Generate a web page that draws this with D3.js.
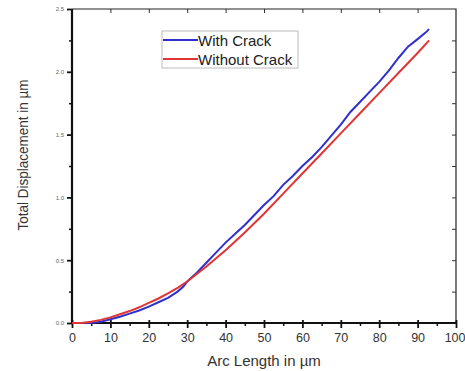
<!DOCTYPE html>
<html lang="en">
<head>
    <meta charset="UTF-8">
    <title>Total Displacement vs Arc Length</title>
    <script src="https://d3js.org/d3.v7.min.js"></script>
    <style>
        body { margin: 0; background: #fff; }
        text { font-family: "Liberation Sans", Arial, sans-serif; }
        .line { fill: none; stroke-width: 2px; }
    </style>
</head>
<body>
    <svg width="465" height="371"></svg>
    <script>
        // values
        const xWith = [0, 5, 7.5, 10, 12.5, 15, 17.5, 20, 22.5, 25, 27.5, 29, 30, 32.5, 35, 37.5, 40, 42.5, 45, 47.5, 50,
            52.5, 55, 57.5, 60, 62.5, 65, 67.5, 70, 72.5, 75, 77.5, 80, 82.5, 85, 87.5, 90, 92, 93];
        const yWith = [0, 0, 0.01, 0.03, 0.05, 0.075, 0.1, 0.13, 0.165, 0.2, 0.25, 0.29, 0.33, 0.40, 0.48, 0.56, 0.64, 0.71, 0.78, 0.86, 0.94,
            1.01, 1.10, 1.17, 1.25, 1.32, 1.40, 1.49, 1.58, 1.68, 1.76, 1.84, 1.92, 2.01, 2.11, 2.20, 2.26, 2.31, 2.34];
        const xWithout = [0, 2.5, 5, 7.5, 10, 12.5, 15, 17.5, 20, 22.5, 25, 27.5, 30, 35, 40, 45, 50, 55, 60, 65, 70, 75, 80, 85, 90, 93];
        const yWithout = [0, 0, 0.01, 0.025, 0.045, 0.07, 0.095, 0.125, 0.16, 0.195, 0.235, 0.28, 0.33, 0.45, 0.58, 0.72, 0.87, 1.03,
            1.19, 1.35, 1.51, 1.67, 1.83, 1.99, 2.15, 2.25];
        const seriesNames = ["With Crack", "Without Crack"];
        const seriesColors = ["#3030cc", "#e03535"];
        const xTicks = [0, 10, 20, 30, 40, 50, 60, 70, 80, 90, 100];
        const yTicks = [0.0, 0.5, 1.0, 1.5, 2.0, 2.5];

        const svg = d3.select("svg");
        const mLeft = 72, mRight = 456, mTop = 9, mBottom = 323;

        const x = d3.scaleLinear().domain([0, 100]).range([mLeft, mRight]);
        const y = d3.scaleLinear().domain([0, 2.5]).range([mBottom, mTop]);

        // frame: top and right edges
        svg.append("path")
            .attr("d", `M${mLeft},${mTop}H${mRight}V${mBottom}`)
            .attr("fill", "none").attr("stroke", "#222").attr("stroke-width", 1.2);

        // top ticks (inward)
        svg.append("g").attr("transform", `translate(0,${mTop})`)
            .call(d3.axisTop(x).tickValues(d3.range(10, 100, 10)).tickSize(-4).tickFormat(""))
            .call(g => g.select(".domain").remove())
            .selectAll("line").attr("stroke", "#333");

        // right ticks (inward)
        svg.append("g").attr("transform", `translate(${mRight},0)`)
            .call(d3.axisRight(y).tickValues(d3.range(0.25, 2.5, 0.25)).tickSize(-4).tickFormat(""))
            .call(g => g.select(".domain").remove())
            .selectAll("line").attr("stroke", "#333");

        // bottom axis
        svg.append("g").attr("transform", `translate(0,${mBottom})`)
            .call(d3.axisBottom(x).tickValues(d3.range(5, 100, 10)).tickSize(3).tickFormat(""))
            .call(g => g.select(".domain").remove())
            .selectAll("line").attr("stroke", "#111").attr("stroke-width", 1.5);
        const xMajor = svg.append("g").attr("transform", `translate(0,${mBottom})`)
            .call(d3.axisBottom(x).tickValues(xTicks).tickSize(5).tickPadding(5).tickFormat(d3.format("d")));
        xMajor.select(".domain").attr("stroke", "#111").attr("stroke-width", 2.2).attr("d", `M${mLeft},0H${mRight}`);
        xMajor.selectAll("line").attr("stroke", "#111").attr("stroke-width", 1.8).attr("y1", -3);
        xMajor.selectAll("text").attr("font-size", 12.5).attr("fill", "#333")
            .filter(d => d === 100).attr("text-anchor", "end").attr("dx", 9);

        // left axis
        svg.append("g").attr("transform", `translate(${mLeft},0)`)
            .call(d3.axisLeft(y).tickValues(d3.range(0.25, 2.5, 0.5)).tickSize(3).tickFormat(""))
            .call(g => g.select(".domain").remove())
            .selectAll("line").attr("stroke", "#111").attr("stroke-width", 1.5);
        const yMajor = svg.append("g").attr("transform", `translate(${mLeft},0)`)
            .call(d3.axisLeft(y).tickValues(yTicks).tickSize(5).tickPadding(3).tickFormat(d3.format(".1f")));
        yMajor.select(".domain").attr("stroke", "#111").attr("stroke-width", 2.2).attr("d", `M0,${mTop}V${mBottom}`);
        yMajor.selectAll("line").attr("stroke", "#111").attr("stroke-width", 1.8);
        yMajor.selectAll("text").attr("font-size", 6).attr("fill", "#666");

        // series
        const line = d3.line().x(d => x(d[0])).y(d => y(d[1]));
        const series = [d3.zip(xWith, yWith), d3.zip(xWithout, yWithout)];
        svg.selectAll(".line").data(series).join("path")
            .attr("class", "line")
            .attr("stroke", (d, i) => seriesColors[i])
            .attr("d", line);

        // axis titles
        svg.append("text")
            .attr("x", 264).attr("y", 366)
            .attr("text-anchor", "middle").attr("font-size", 15).attr("fill", "#333")
            .text("Arc Length in µm");
        svg.append("text")
            .attr("transform", "translate(28,155) rotate(-90)")
            .attr("text-anchor", "middle").attr("font-size", 14).attr("fill", "#333")
            .attr("textLength", 151).attr("lengthAdjust", "spacingAndGlyphs")
            .text("Total Displacement in µm");

        // legend
        const legend = svg.append("g").attr("transform", "translate(162,31)");
        legend.append("rect")
            .attr("width", 136).attr("height", 37)
            .attr("fill", "#fff").attr("stroke", "#bbb");
        seriesNames.forEach((name, i) => {
            const ly = 9 + i * 19;
            legend.append("line")
                .attr("x1", 1).attr("x2", 36).attr("y1", ly).attr("y2", ly)
                .attr("stroke", seriesColors[i]).attr("stroke-width", 2);
            legend.append("text")
                .attr("x", 36).attr("y", ly + 6)
                .attr("font-size", 15).attr("fill", "#222")
                .text(name);
        });
    </script>
</body>
</html>
